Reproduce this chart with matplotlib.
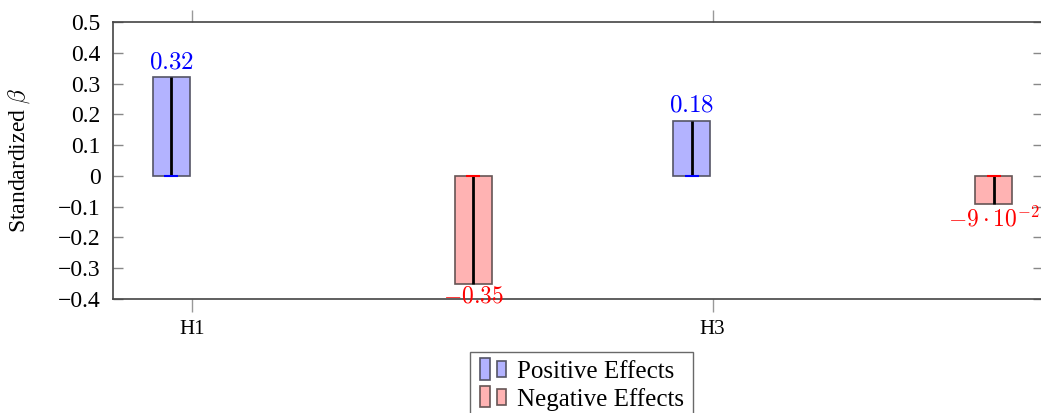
import numpy as np
import matplotlib.pyplot as plt
from matplotlib.patches import Rectangle
from matplotlib.legend_handler import HandlerBase

plt.rcParams['font.family'] = ['Liberation Serif', 'DejaVu Serif']
plt.rcParams['mathtext.fontset'] = 'cm'

# hypotheses and standardized coefficients
categories = ['H1', 'H2', 'H3', 'H4']
positive_cats = [0, 2]
positive_vals = [0.32, 0.18]
negative_cats = [1, 3]
negative_vals = [-0.35, -0.09]
negative_text = [r'$-0.35$', r'$-9\cdot10^{-2}$']
shown_ticks = [0, 2]
yticks = [-0.4, -0.3, -0.2, -0.1, 0, 0.1, 0.2, 0.3, 0.4, 0.5]

pos_fill, pos_edge = '#b3b3ff', '#555566'
neg_fill, neg_edge = '#ffb3b3', '#665555'

bar_w = 0.142
offset = 0.08


class TwoBarHandler(HandlerBase):
    # pgfplots-style ybar legend image: two small bars side by side
    def __init__(self, fill, edge):
        super().__init__()
        self.fill, self.edge = fill, edge

    def create_artists(self, legend, orig, xd, yd, width, height, fontsize, trans):
        r1 = Rectangle((xd + 1, yd - 1), 7, height + 3, fc=self.fill, ec=self.edge, lw=1.2, transform=trans)
        r2 = Rectangle((xd + 13, yd + 1), 7, height - 1, fc=self.fill, ec=self.edge, lw=1.2, transform=trans)
        return [r1, r2]


def fmt(t):
    if abs(t) < 1e-9:
        return '0'
    s = '%g' % t
    return s.replace('-', '\u2212')


fig = plt.figure(figsize=(10.41, 4.13), dpi=100)
ax = fig.add_axes([0.1086, 0.276, 0.8935, 0.6707])

px = np.array(positive_cats) - offset
nx = np.array(negative_cats) + offset
pbars = ax.bar(px, positive_vals, width=bar_w, color=pos_fill, edgecolor=pos_edge, lw=1.2, zorder=2)
nbars = ax.bar(nx, negative_vals, width=bar_w, color=neg_fill, edgecolor=neg_edge, lw=1.2, zorder=2)

# black stems with coloured cap at zero
ax.vlines(px, 0, positive_vals, color='black', lw=2, zorder=3)
ax.vlines(nx, 0, negative_vals, color='black', lw=2, zorder=3)
ax.plot(px, [0] * len(px), ls='none', marker='_', ms=10, mew=1.5, color='blue', zorder=4)
ax.plot(nx, [0] * len(nx), ls='none', marker='_', ms=10, mew=1.5, color='red', zorder=4)

for x, v in zip(px, positive_vals):
    ax.annotate(r'$%.2f$' % v, (x, v), xytext=(0, 3), textcoords='offset points',
                ha='center', va='bottom', color='blue', fontsize=18)
for x, v, t in zip(nx, negative_vals, negative_text):
    ax.annotate(t, (x, v), xytext=(0, -2), textcoords='offset points',
                ha='center', va='top', color='red', fontsize=17)

ax.set_xlim(-0.304, 3.27)
ax.set_ylim(-0.4, 0.5)
ax.set_yticks(yticks)
ax.set_yticklabels([fmt(t) for t in yticks])
ax.set_xticks(shown_ticks)
ax.set_xticklabels([categories[i] for i in shown_ticks])
ax.tick_params(axis='y', direction='in', length=7, right=True, labelsize=17, color='#888888', width=1, pad=9)
ax.tick_params(axis='x', direction='out', length=9, top=True, labelsize=15, color='#999999', width=1, pad=6)
for s in ax.spines.values():
    s.set_color('#444444')
    s.set_linewidth(1.2)
ax.set_ylabel(r'Standardized $\beta$', fontsize=17)
ax.yaxis.set_label_coords(-0.087, 0.5)

fig.legend([pbars, nbars], ['Positive Effects', 'Negative Effects'],
           handler_map={pbars: TwoBarHandler(pos_fill, pos_edge), nbars: TwoBarHandler(neg_fill, neg_edge)},
           loc='upper center', bbox_to_anchor=(0.5585, 0.148), fontsize=18, frameon=True, fancybox=False,
           edgecolor='#444444', handlelength=1.2, handletextpad=0.35, borderpad=0.35, labelspacing=0.2,
           borderaxespad=0)

fig.savefig('out.png', dpi=100)
